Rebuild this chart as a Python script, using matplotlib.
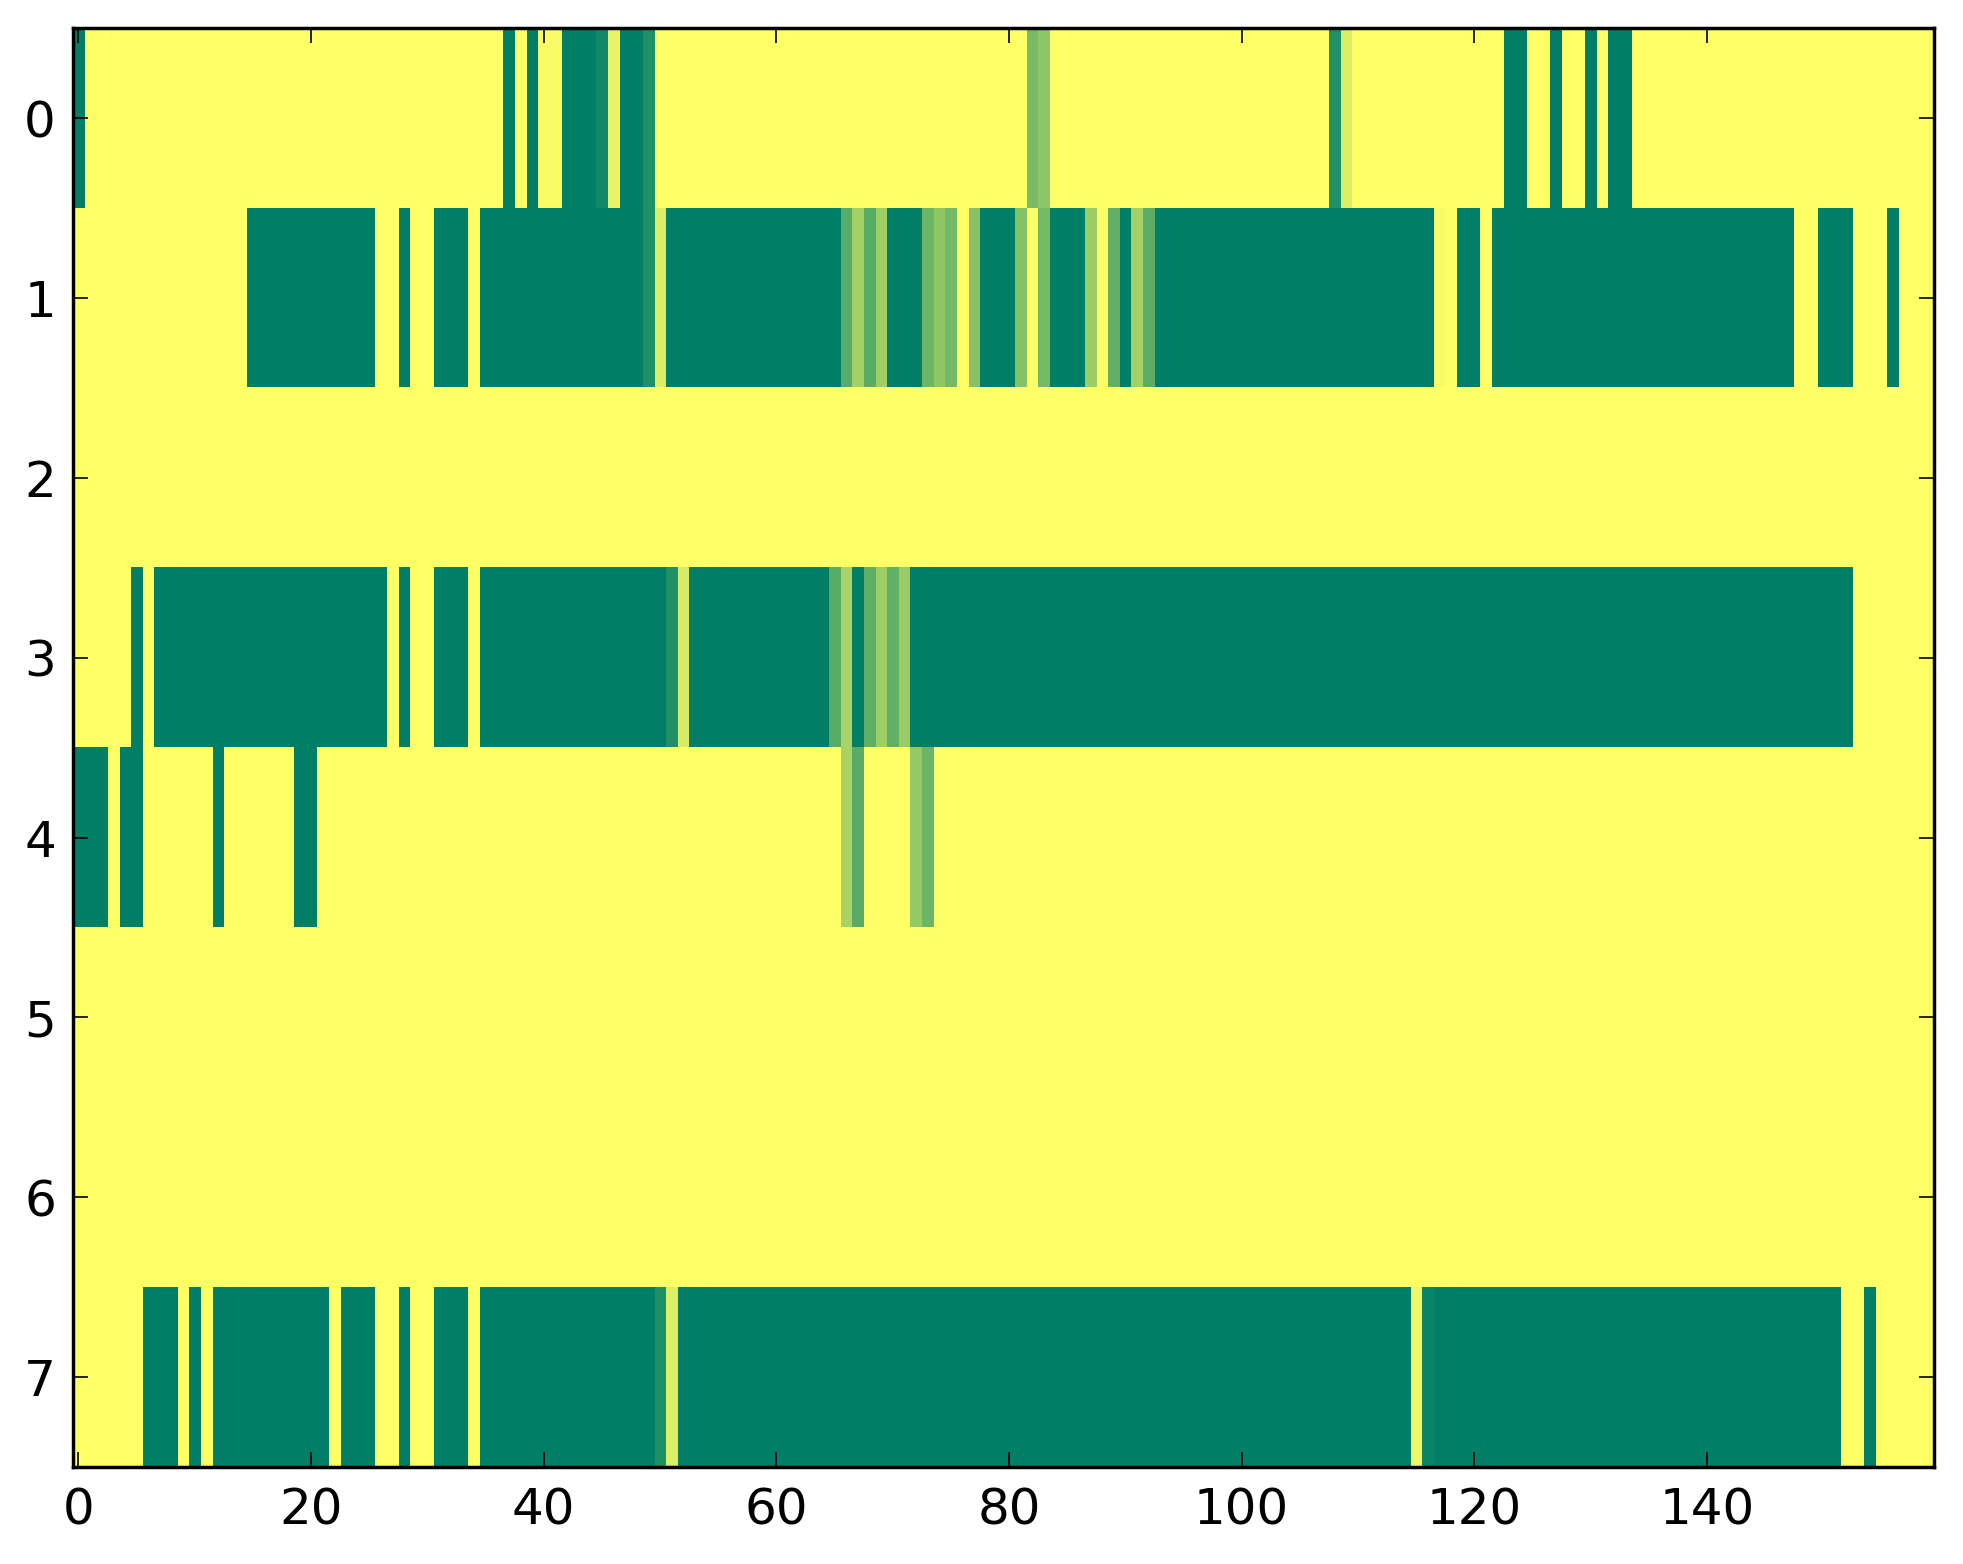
import numpy as np
import matplotlib
matplotlib.use("Agg")
import matplotlib.pyplot as plt

# each row of the grid, stored as (value, run length) pairs
# 0 = dark green, 1 = yellow, values in between are the paler greens
row_0 = [(0, 1), (1, 36), (0, 1), (1, 1), (0, 1), (0.98, 2), (0, 3), (0.07, 1),
         (0.91, 1), (0, 2), (0.13, 1), (1, 32), (0.47, 1), (0.56, 1), (1, 24),
         (0.13, 1), (0.86, 1), (1, 13), (0, 2), (1, 2), (0, 1), (1, 2), (0, 1),
         (1, 1), (0, 2), (1, 26)]
row_1 = [(1, 15), (0, 11), (1, 2), (0, 1), (1, 2), (0, 3), (1, 1), (0, 14),
         (0.13, 1), (0.86, 1), (0, 15), (0.35, 1), (0.64, 1), (0.35, 1), (0.62, 1),
         (0, 3), (0.42, 1), (0.56, 1), (0.45, 1), (1, 1), (0.53, 1), (0, 3),
         (0.52, 1), (1, 1), (0.45, 1), (0, 3), (0.61, 1), (1, 1), (0.38, 1),
         (0, 1), (0.64, 1), (0.36, 1), (0, 24), (0.96, 1), (1, 1), (0, 2), (1, 1),
         (0, 26), (1, 2), (0, 3), (1, 3), (0, 1), (1, 3)]
row_2 = [(1, 160)]
row_3 = [(1, 5), (0, 1), (1, 1), (0, 20), (1, 1), (0, 1), (1, 2), (0, 3), (1, 1),
         (0, 16), (0.13, 1), (0.84, 1), (0, 12), (0.35, 1), (0.66, 1), (0, 1),
         (0.37, 1), (0.62, 1), (0.38, 1), (0.6, 1), (0, 81), (1, 7)]
row_4 = [(0, 3), (1, 1), (0, 2), (1, 6), (0, 1), (1, 6), (0, 2), (1, 45),
         (0.65, 1), (0.35, 1), (1, 4), (0.58, 1), (0.42, 1), (1, 86)]
row_5 = [(1, 160)]
row_6 = [(1, 160)]
row_7 = [(1, 6), (0, 3), (1, 1), (0, 1), (1, 1), (0, 10), (1, 1), (0, 3), (1, 2),
         (0, 1), (1, 2), (0, 3), (1, 1), (0, 15), (0.13, 1), (0.86, 1), (0, 63),
         (0.94, 1), (0.04, 1), (0, 35), (1, 2), (0, 1), (1, 5)]

rows = [row_0, row_1, row_2, row_3, row_4, row_5, row_6, row_7]
x_ticks = [0, 20, 40, 60, 80, 100, 120, 140]
y_ticks = [0, 1, 2, 3, 4, 5, 6, 7]


def expand(runs):
    vals = []
    for v, n in runs:
        vals += [v] * n
    return vals


grid = np.array([expand(r) for r in rows], dtype=float)
assert grid.shape == (8, 160)

fig = plt.figure(figsize=(9.815, 7.82), dpi=200)
ax = fig.add_axes([0.037, 0.062, 0.948, 0.920])
ax.imshow(grid, cmap="summer", aspect="auto", interpolation="nearest")

ax.set_xticks(x_ticks)
ax.set_yticks(y_ticks)
ax.tick_params(direction="in", top=True, right=True, length=5.3, width=0.6,
               labelsize=18)
ax.tick_params(axis="x", pad=7)
ax.tick_params(axis="y", pad=6)
for s in ax.spines.values():
    s.set_linewidth(1.25)

fig.savefig("out.png", dpi=200)
